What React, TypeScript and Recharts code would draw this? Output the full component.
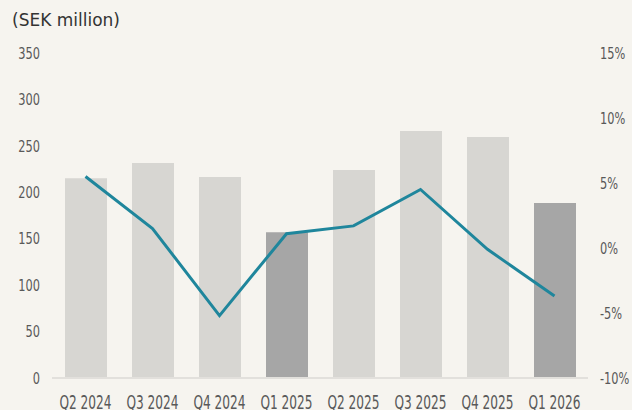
import { Bar, Cell, ComposedChart, Line, XAxis, YAxis } from "recharts";

const quarters = ["Q2 2024", "Q3 2024", "Q4 2024", "Q1 2025", "Q2 2025", "Q3 2025", "Q4 2025", "Q1 2026"];
const sales = [215, 231.5, 216.5, 157, 224, 266, 259.5, 188.5];
const margin = [5.5, 1.5, -5.2, 1.1, 1.7, 4.5, -0.1, -3.7];
const leftTicks = [0, 50, 100, 150, 200, 250, 300, 350];
const rightTicks = [-10, -5, 0, 5, 10, 15];

const data = quarters.map((q, i) => ({ name: q, sales: sales[i], margin: margin[i] }));

const narrow = "'DejaVu Sans Condensed', 'DejaVu Sans', sans-serif";

// condensed look of the original font, squeezed with a transform
const XTick = ({ x, payload }: any) => (
  <g transform={ `translate(${ x },409)` }>
    <text textAnchor="middle" transform="scale(0.82,1.2)" fontSize={ 16.5 } fontFamily={ narrow } fill="#595959">
      { payload.value }
    </text>
  </g>
);

const YTick = ({ x, y, payload, textAnchor, suffix }: any) => (
  <g transform={ `translate(${ x },${ y })` }>
    <text textAnchor={ textAnchor } dy="0.36em" transform="scale(0.79,1)" fontSize={ 16 } fontFamily={ narrow }
          fill="#595959">
      { payload.value }{ suffix }
    </text>
  </g>
);

const App = () => (
  <div style={ { position: "absolute", left: 0, top: 0, width: 632, height: 410, background: "#f6f4ef" } }>
    <div style={ {
      position: "absolute", left: 12, top: 10, fontSize: 17, color: "#333",
      fontFamily: "'DejaVu Sans', sans-serif"
    } }>(SEK million)
    </div>
    <ComposedChart width={ 632 } height={ 410 } data={ data } margin={ { top: 53, right: 0, left: 0, bottom: 0 } }>
      <XAxis dataKey="name" height={ 32 } tickLine={ false } axisLine={ { stroke: "#e2e0dc", strokeWidth: 2 } }
             tick={ <XTick/> } interval={ 0 }/>
      <YAxis yAxisId="left" width={ 52 } domain={ [0, 350] } ticks={ leftTicks } axisLine={ false } tickLine={ false }
             tickMargin={ 6 } tick={ <YTick suffix=""/> }/>
      <YAxis yAxisId="right" orientation="right" width={ 44 } domain={ [-10, 15] } ticks={ rightTicks }
             axisLine={ false } tickLine={ false } tickMargin={ 6 } tick={ <YTick suffix="%"/> }/>
      <Bar yAxisId="left" dataKey="sales" barSize={ 42 } isAnimationActive={ false }>
        { quarters.map(q => <Cell key={ q } fill={ q.startsWith("Q1") ? "#a6a6a6" : "#d7d6d2" }/>) }
      </Bar>
      <Line yAxisId="right" dataKey="margin" stroke="#1f869c" strokeWidth={ 3 } dot={ false }
            isAnimationActive={ false }/>
    </ComposedChart>
  </div>
);

export default App;
